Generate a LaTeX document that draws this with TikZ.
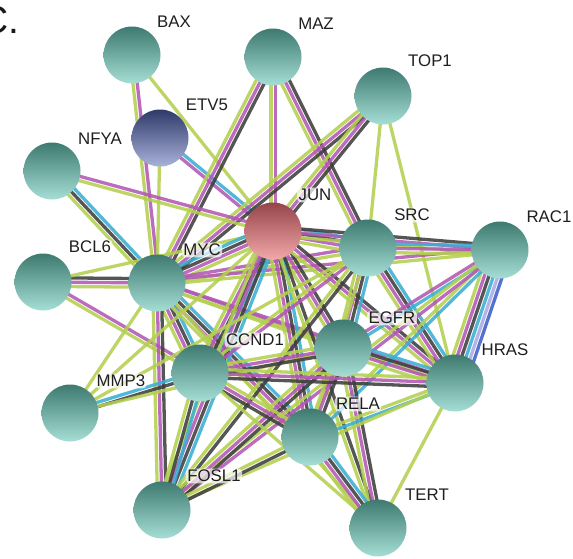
\documentclass[tikz,border=0pt]{standalone}
\usepackage{fontspec}
\setmainfont{Liberation Sans}
\usetikzlibrary{calc,backgrounds}
\definecolor{eG}{RGB}{180,208,80}
\definecolor{eM}{RGB}{178,88,180}
\definecolor{eK}{RGB}{62,62,62}
\definecolor{eC}{RGB}{60,175,210}
\definecolor{eL}{RGB}{170,170,232}
\definecolor{eB}{RGB}{62,96,200}
\definecolor{tT}{RGB}{62,122,112}
\definecolor{tM}{RGB}{100,170,160}
\definecolor{tB}{RGB}{165,222,212}
\definecolor{rT}{RGB}{150,68,74}
\definecolor{rM}{RGB}{205,112,116}
\definecolor{rB}{RGB}{242,168,168}
\definecolor{bT}{RGB}{48,58,105}
\definecolor{bM}{RGB}{98,108,160}
\definecolor{bB}{RGB}{168,178,218}
\newcount\ecnt
\newcommand\sedge[3]{%
  \global\ecnt=0
  \foreach \cc in {#3}{\global\advance\ecnt by 1}%
  \foreach \cc [count=\ii] in {#3}{%
    \pgfmathsetmacro\off{(\ii-(\the\ecnt+1)/2)*4.3}%
    \draw[edge,draw=\cc] ($(#1.center)!\off pt!90:(#2.center)$) -- ($(#2.center)!\off pt!-90:(#1.center)$);
  }}
\tikzset{
  edge/.style={line width=3.3pt, opacity=0.88},
  sph/.style={circle, minimum size=57pt, inner sep=0pt, top color=tT, middle color=tM, bottom color=tB},
  sphred/.style={sph, top color=rT, middle color=rM, bottom color=rB},
  sphblue/.style={sph, top color=bT, middle color=bM, bottom color=bB},
  lab/.style={font=\fontsize{16.8}{18}\selectfont, text=black!88, fill=white, fill opacity=0.7, text opacity=1, rounded corners=4pt, inner sep=1.5pt}
}
\begin{document}
\begin{tikzpicture}[x=1pt,y=-1pt]
\useasboundingbox (0,0) rectangle (573,558);
% nodes
\node[sph] (BAX) at (132,55) {};
\node[sph] (MAZ) at (273,57) {};
\node[sph] (TOP1) at (383,96) {};
\node[sphblue] (ETV5) at (160,138) {};
\node[sph] (NFYA) at (52,171) {};
\node[sphred] (JUN) at (273,231) {};
\node[sph] (SRC) at (368,248) {};
\node[sph] (RAC1) at (500,250) {};
\node[sph] (BCL6) at (43,282) {};
\node[sph] (MYC) at (157,283) {};
\node[sph] (EGFR) at (343,348) {};
\node[sph] (CCND1) at (200,373) {};
\node[sph] (HRAS) at (455,383) {};
\node[sph] (MMP3) at (70,413) {};
\node[sph] (RELA) at (310,437) {};
\node[sph] (FOSL1) at (162,510) {};
\node[sph] (TERT) at (378,528) {};
% edges
\begin{scope}[on background layer]
\fill[white] (0,0) rectangle (573,558);
\sedge{BAX}{MYC}{eG,eM}
\sedge{BAX}{JUN}{eG}
\sedge{ETV5}{MYC}{eG}
\sedge{ETV5}{JUN}{eM,eC}
\sedge{MAZ}{MYC}{eG,eM,eK}
\sedge{MAZ}{JUN}{eG,eM}
\sedge{MAZ}{SRC}{eG,eM,eK}
\sedge{TOP1}{MYC}{eG,eM,eK}
\sedge{TOP1}{JUN}{eG,eM,eK}
\sedge{TOP1}{SRC}{eG}
\sedge{TOP1}{HRAS}{eG}
\sedge{NFYA}{JUN}{eG,eM}
\sedge{NFYA}{MYC}{eG,eK,eC}
\sedge{BCL6}{MYC}{eG,eM,eK}
\sedge{BCL6}{JUN}{eG}
\sedge{BCL6}{CCND1}{eG,eM}
\sedge{MYC}{JUN}{eG,eM,eK,eC}
\sedge{MYC}{SRC}{eG,eM}
\sedge{MYC}{RAC1}{eG,eM}
\sedge{MYC}{CCND1}{eG,eM,eK,eC}
\sedge{MYC}{EGFR}{eG,eM}
\sedge{MYC}{HRAS}{eG,eM}
\sedge{MYC}{RELA}{eG,eM,eK,eC}
\sedge{MYC}{FOSL1}{eG,eM,eK}
\sedge{MYC}{MMP3}{eG}
\sedge{MYC}{TERT}{eG}
\sedge{JUN}{SRC}{eG,eM,eK,eC}
\sedge{JUN}{RAC1}{eG,eM,eK}
\sedge{JUN}{EGFR}{eG,eM,eK}
\sedge{JUN}{CCND1}{eG,eM,eK,eC}
\sedge{JUN}{RELA}{eG,eM,eK,eC}
\sedge{JUN}{FOSL1}{eG,eM,eK,eC}
\sedge{JUN}{HRAS}{eG,eM,eK}
\sedge{JUN}{MMP3}{eG}
\sedge{JUN}{TERT}{eG,eK}
\sedge{MMP3}{SRC}{eG}
\sedge{MMP3}{CCND1}{eK,eC}
\sedge{MMP3}{EGFR}{eG}
\sedge{SRC}{EGFR}{eG,eM,eK,eC}
\sedge{SRC}{HRAS}{eG,eM,eK,eC}
\sedge{SRC}{RAC1}{eG,eM,eC}
\sedge{SRC}{CCND1}{eG,eM}
\sedge{SRC}{RELA}{eG}
\sedge{SRC}{FOSL1}{eG,eK}
\sedge{RAC1}{HRAS}{eG,eM,eK,eC,eL,eB}
\sedge{RAC1}{EGFR}{eM,eC}
\sedge{RAC1}{RELA}{eG,eC}
\sedge{RAC1}{FOSL1}{eG,eM}
\sedge{EGFR}{HRAS}{eG,eM,eK,eC}
\sedge{EGFR}{RELA}{eG,eM,eK}
\sedge{EGFR}{CCND1}{eG,eM,eK}
\sedge{EGFR}{TERT}{eG,eM,eK}
\sedge{EGFR}{FOSL1}{eG,eM,eK}
\sedge{HRAS}{RELA}{eG,eC}
\sedge{HRAS}{CCND1}{eG,eM,eK}
\sedge{HRAS}{TERT}{eG}
\sedge{HRAS}{FOSL1}{eG}
\sedge{RELA}{CCND1}{eG,eM,eK}
\sedge{RELA}{TERT}{eG,eM,eK,eC}
\sedge{RELA}{FOSL1}{eG,eK}
\sedge{CCND1}{FOSL1}{eG,eK,eC}
\sedge{CCND1}{TERT}{eG}
\end{scope}
% labels
\node[lab] (lBAX) at (174,22) {BAX};
\node[lab] (lMAZ) at (316,24) {MAZ};
\node[lab] (lTOP1) at (430,61) {TOP1};
\node[lab] (lETV5) at (207,105) {ETV5};
\node[lab] (lNFYA) at (100,139) {NFYA};
\node[lab] (lJUN) at (315,195) {JUN};
\node[lab] (lSRC) at (412,215) {SRC};
\node[lab] (lRAC1) at (549,217) {RAC1};
\node[lab] (lBCL6) at (90,247) {BCL6};
\node[lab] (lMYC) at (202,250) {MYC};
\node[lab] (lEGFR) at (392,318) {EGFR};
\node[lab] (lCCND1) at (255,340) {CCND1};
\node[lab] (lHRAS) at (505,350) {HRAS};
\node[lab] (lMMP3) at (121,381) {MMP3};
\node[lab] (lRELA) at (358,404) {RELA};
\node[lab] (lFOSL1) at (214,476) {FOSL1};
\node[lab] (lTERT) at (427,495) {TERT};
\node[anchor=base west, inner sep=0pt, font=\fontsize{39}{40}\selectfont, text=black!90] (title) at (-19.5,33) {C.};
\end{tikzpicture}
\end{document}
